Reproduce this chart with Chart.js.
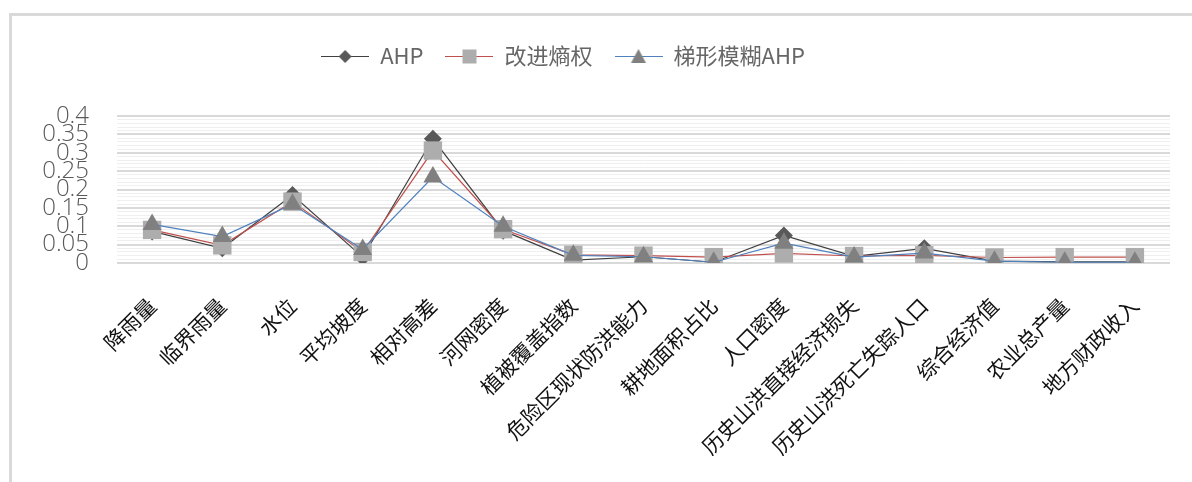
<!DOCTYPE html>
<html>
<head>
<meta charset="utf-8">
<script src="https://cdn.jsdelivr.net/npm/chart.js@4/dist/chart.umd.min.js"></script>
<style>
    html, body { margin: 0; padding: 0; background: #ffffff; }
    #contenedor { position: relative; width: 1192px; height: 482px; }
    #marco { position: absolute; left: 9px; top: 13px; right: 0; bottom: 0;
             border-top: 3px solid #d9d9d9; border-left: 3px solid #d9d9d9; }
    #chart1 { position: absolute; left: 0; top: 0; }
</style>
</head>
<body>
<div id="contenedor">
    <div id="marco"></div>
    <canvas id="chart1" width="1192" height="482"></canvas>
</div>
<script>
var categorias = ['降雨量', '临界雨量', '水位', '平均坡度', '相对高差', '河网密度', '植被覆盖指数',
    '危险区现状防洪能力', '耕地面积占比', '人口密度', '历史山洪直接经济损失', '历史山洪死亡失踪人口',
    '综合经济值', '农业总产量', '地方财政收入'];

var ahp = [0.086, 0.040, 0.185, 0.016, 0.338, 0.088, 0.008, 0.017, 0.002, 0.075, 0.018, 0.040, 0.005, 0.003, 0.003];
var entropia = [0.090, 0.048, 0.167, 0.030, 0.306, 0.092, 0.022, 0.020, 0.016, 0.026, 0.019, 0.021, 0.015, 0.016, 0.016];
var trapecio = [0.105, 0.072, 0.160, 0.037, 0.234, 0.100, 0.021, 0.017, 0.002, 0.054, 0.016, 0.027, 0.005, 0.002, 0.002];

var ticksY = [0, 0.05, 0.1, 0.15, 0.2, 0.25, 0.3, 0.35, 0.4];

// icono de leyenda: linea + marcador
function icono(colorLinea, colorPunto, forma) {
    var c = document.createElement('canvas');
    c.width = 48;
    c.height = 18;
    var ctx = c.getContext('2d');
    ctx.strokeStyle = colorLinea;
    ctx.lineWidth = 1.2;
    ctx.beginPath();
    ctx.moveTo(0, 9.5);
    ctx.lineTo(48, 9.5);
    ctx.stroke();
    ctx.fillStyle = colorPunto;
    ctx.beginPath();
    if (forma == 'rombo') {
        ctx.moveTo(24, 3); ctx.lineTo(30.5, 9.5); ctx.lineTo(24, 16); ctx.lineTo(17.5, 9.5);
    } else if (forma == 'cuadro') {
        ctx.rect(17, 2.5, 14, 14);
    } else {
        ctx.moveTo(24, 2); ctx.lineTo(31.5, 16); ctx.lineTo(16.5, 16);
    }
    ctx.closePath();
    ctx.fill();
    return c;
}

var iconos = [
    icono('#404040', '#595959', 'rombo'),
    icono('#c0504d', '#adadad', 'cuadro'),
    icono('#4f81bd', '#808080', 'triangulo')
];

// espacio extra debajo de la leyenda y desplazamiento horizontal
var ajusteLeyenda = {
    id: 'ajusteLeyenda',
    beforeLayout: function (chart) {
        var leyenda = chart.legend;
        if (leyenda && !leyenda._fitParcheado) {
            var fitOriginal = leyenda.fit;
            leyenda.fit = function () {
                fitOriginal.call(this);
                this.height += 39;
            };
            leyenda._fitParcheado = true;
        }
    },
    afterLayout: function (chart) {
        chart.legend.left -= 22;
        chart.legend.right -= 22;
    }
};

var datos = {
    labels: categorias,
    datasets: [{
        label: 'AHP',
        data: ahp,
        order: 2,
        borderColor: '#404040',
        borderWidth: 1.2,
        backgroundColor: '#595959',
        pointStyle: 'rectRot',
        pointRadius: 9,
        pointBackgroundColor: '#595959',
        pointBorderWidth: 0,
        tension: 0
    }, {
        label: '改进熵权',
        data: entropia,
        order: 1,
        borderColor: '#c0504d',
        borderWidth: 1.2,
        backgroundColor: '#adadad',
        pointStyle: 'rect',
        pointRadius: 13,
        pointBackgroundColor: '#adadad',
        pointBorderWidth: 0,
        tension: 0
    }, {
        label: '梯形模糊AHP',
        data: trapecio,
        order: 0,
        borderColor: '#4f81bd',
        borderWidth: 1.2,
        backgroundColor: '#808080',
        pointStyle: 'triangle',
        pointRadius: 11,
        pointBackgroundColor: '#808080',
        pointBorderWidth: 0,
        tension: 0
    }]
};

var canvas = document.getElementById('chart1').getContext('2d');

window.grafica = new Chart(canvas, {
    type: 'line',
    data: datos,
    plugins: [ajusteLeyenda],
    options: {
        responsive: false,
        animation: false,
        layout: {
            padding: { left: 0, right: 22, top: 23, bottom: 0 }
        },
        plugins: {
            tooltip: { enabled: false },
            legend: {
                display: true,
                position: 'top',
                labels: {
                    usePointStyle: true,
                    pointStyleWidth: 48,
                    padding: 22,
                    color: '#666666',
                    font: { family: '"Noto Sans CJK SC", "Open Sans", sans-serif', size: 22 },
                    generateLabels: function (chart) {
                        return chart.data.datasets.map(function (ds, i) {
                            return {
                                text: ds.label,
                                datasetIndex: i,
                                pointStyle: iconos[i],
                                fontColor: '#666666',
                                lineWidth: 0,
                                hidden: false
                            };
                        });
                    }
                }
            }
        },
        scales: {
            x: {
                offset: true,
                grid: { display: false },
                border: { display: false },
                ticks: {
                    minRotation: 45,
                    maxRotation: 45,
                    autoSkip: false,
                    padding: 22,
                    color: '#111111',
                    font: { family: '"Noto Sans CJK SC", sans-serif', size: 21 }
                },
                afterFit: function (escala) { escala.height = 219; }
            },
            y: {
                min: 0,
                max: 0.4,
                border: { display: false },
                grid: {
                    drawTicks: false,
                    color: function (ctx) {
                        var v = Math.round(ctx.tick.value * 100);
                        return v % 5 == 0 ? '#d9d9d9' : '#efefef';
                    },
                    lineWidth: function (ctx) {
                        var v = Math.round(ctx.tick.value * 100);
                        return v % 5 == 0 ? 2 : 1;
                    }
                },
                ticks: {
                    stepSize: 0.01,
                    autoSkip: false,
                    padding: 28,
                    color: '#595959',
                    font: { family: '"Open Sans", "Noto Sans", sans-serif', size: 24, weight: 300, lineHeight: 1 },
                    callback: function (valor) {
                        var v = Math.round(valor * 100) / 100;
                        return ticksY.indexOf(v) >= 0 ? String(v) : '';
                    }
                },
                afterFit: function (escala) { escala.width = 117; }
            }
        }
    }
});
</script>
</body>
</html>
